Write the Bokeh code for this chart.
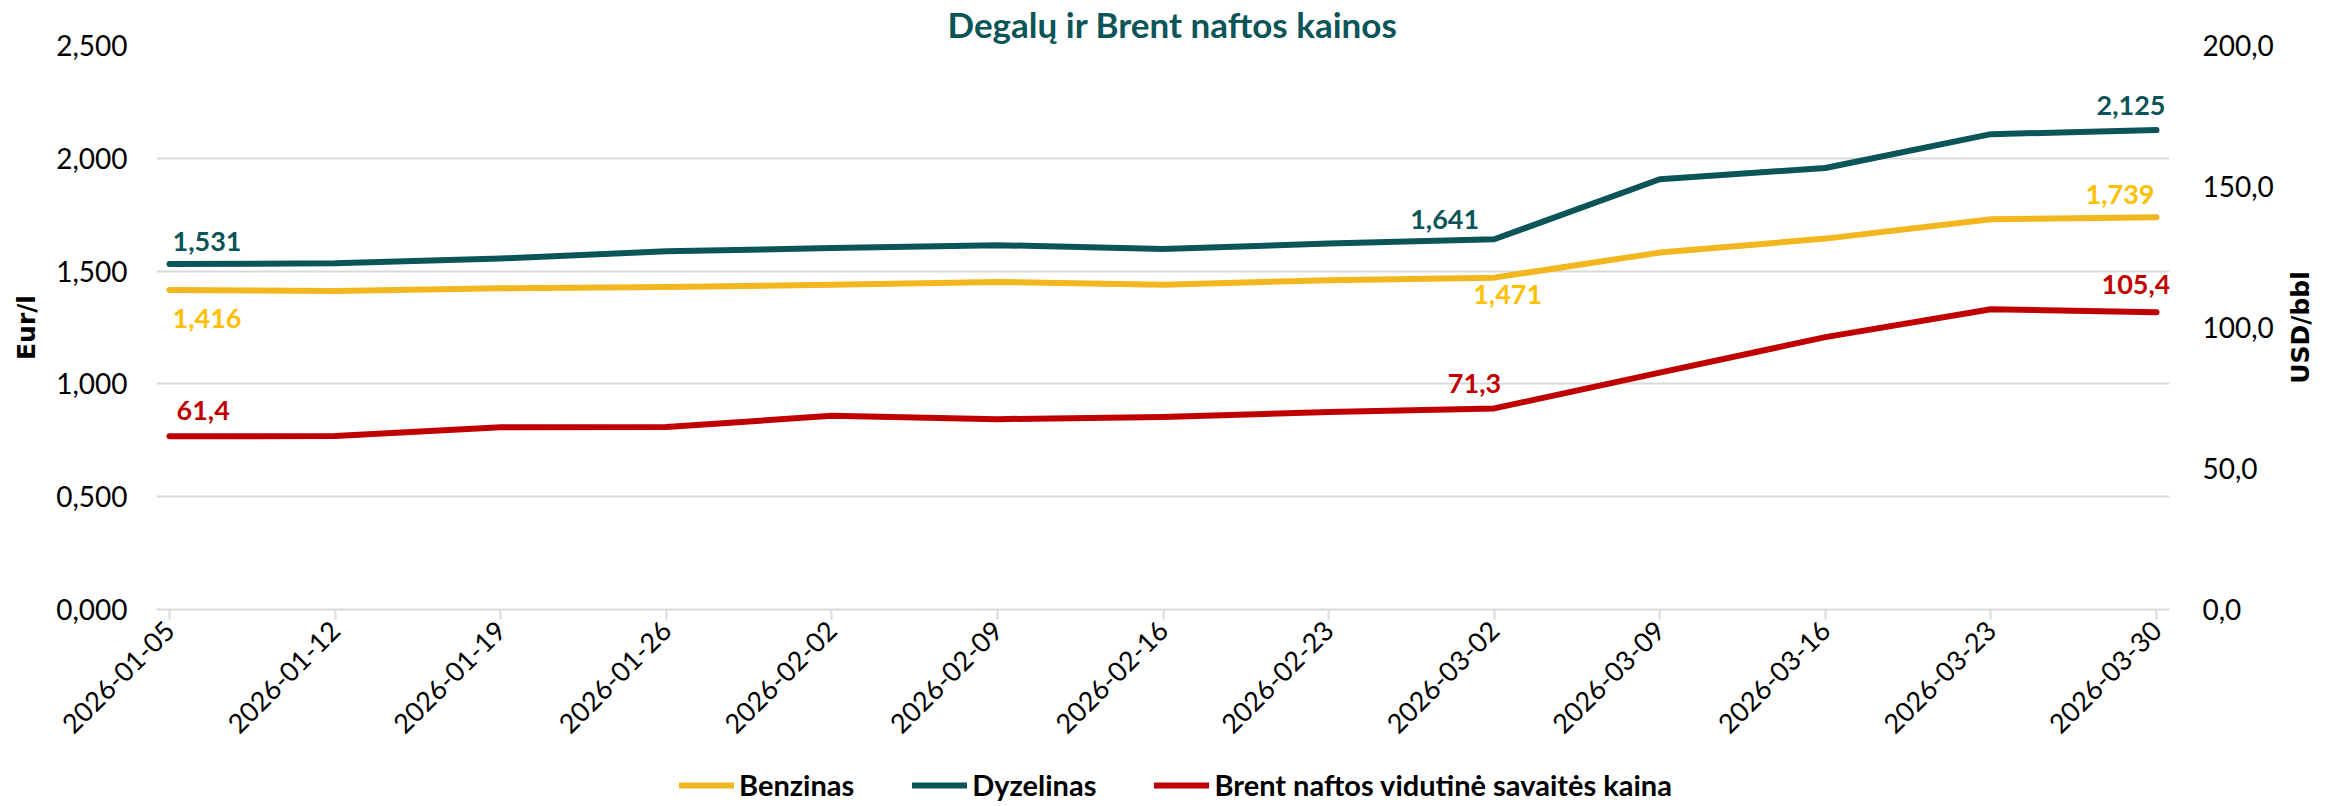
import math
from bokeh.plotting import figure
from bokeh.layouts import column, row
from bokeh.models import (Range1d, LinearAxis, FixedTicker, CustomJSTickFormatter,
                          Legend, LegendItem, Label, ColumnDataSource)
from bokeh.core.properties import value
from bokeh.embed import file_html
from bokeh.resources import INLINE

# ---------------- data ----------------
dates = ["2026-01-05", "2026-01-12", "2026-01-19", "2026-01-26", "2026-02-02",
         "2026-02-09", "2026-02-16", "2026-02-23", "2026-03-02", "2026-03-09",
         "2026-03-16", "2026-03-23", "2026-03-30"]
benzinas = [1.416, 1.412, 1.424, 1.430, 1.439, 1.452, 1.440, 1.459, 1.471,
            1.582, 1.644, 1.730, 1.739]
dyzelinas = [1.531, 1.535, 1.556, 1.588, 1.602, 1.615, 1.598, 1.622, 1.641,
             1.907, 1.957, 2.107, 2.125]
brent = [61.4, 61.5, 64.6, 64.7, 68.7, 67.5, 68.3, 70.0, 71.3, 84.0, 96.6,
         106.5, 105.4]
eur_ticks = [0.0, 0.5, 1.0, 1.5, 2.0, 2.5]
usd_ticks = [0, 50, 100, 150, 200]
series_names = ["Benzinas", "Dyzelinas", "Brent naftos vidutinė savaitės kaina"]
title_text = "Degalų ir Brent naftos kainos"
left_title = "Eur/l"
right_title = "USD/bbl"
labelled_points = [0, 8, 12]

# ---------------- style ----------------
TEAL = "#0B5558"
YELLOW_LINE = "#F2B71E"
YELLOW_TEXT = "#FFC000"
RED = "#C00000"
GRID = "#D9D9D9"
FONT = "Lato"
TOTAL_W, TOTAL_H = 2336, 806
LEG_H = 44
RT_W = 56
W = TOTAL_W - RT_W
H = TOTAL_H - LEG_H
FRAME_L, FRAME_R, FRAME_T, FRAME_B = 156, 2169, 44, 609

xs = list(range(len(dates)))
pad = 0.0785
xr = Range1d(-pad, len(dates) - 1 + pad)
yr = Range1d(eur_ticks[0], eur_ticks[-1])

p = figure(width=W, height=H, output_backend="svg", toolbar_location=None,
           x_range=xr, y_range=yr,
           min_border_left=FRAME_L, min_border_right=W - FRAME_R,
           min_border_top=FRAME_T, min_border_bottom=H - FRAME_B)
p.outline_line_color = None
p.background_fill_color = "white"
p.border_fill_color = "white"
p.extra_y_ranges = {"usd": Range1d(usd_ticks[0], usd_ticks[-1])}

# title
p.title.text = title_text
p.title.align = "left"
p.title.offset = 947 - FRAME_L
p.title.standoff = 1
p.title.text_font = FONT
p.title.text_font_style = "bold"
p.title.text_font_size = "35px"
p.title.text_color = TEAL

# left axis
p.yaxis.ticker = FixedTicker(ticks=eur_ticks)
p.yaxis.formatter = CustomJSTickFormatter(code="return tick.toFixed(3).replace('.', ',');")
p.yaxis.axis_line_color = None
p.yaxis.major_tick_line_color = None
p.yaxis.minor_tick_line_color = None
p.yaxis.major_tick_out = 0
p.yaxis.major_label_standoff = 29
p.yaxis.major_label_text_font = FONT
p.yaxis.major_label_text_font_size = "28px"
p.yaxis.major_label_text_color = "#000000"
p.yaxis.axis_label = left_title
p.yaxis.axis_label_standoff = 12
p.yaxis.axis_label_text_font = "DejaVu Sans"
p.yaxis.axis_label_text_font_style = "bold"
p.yaxis.axis_label_text_font_size = "25px"
p.yaxis.axis_label_text_color = "#000000"

# right axis
ax_r = LinearAxis(y_range_name="usd", ticker=FixedTicker(ticks=usd_ticks),
                  formatter=CustomJSTickFormatter(code="return tick.toFixed(1).replace('.', ',');"))
ax_r.axis_line_color = None
ax_r.major_tick_line_color = None
ax_r.minor_tick_line_color = None
ax_r.major_tick_out = 0
ax_r.major_label_standoff = 33
ax_r.major_label_text_font = FONT
ax_r.major_label_text_font_size = "28px"
ax_r.major_label_text_color = "#000000"
p.add_layout(ax_r, "right")

# x axis
p.xaxis.ticker = FixedTicker(ticks=xs)
p.xaxis.major_label_overrides = {i: d for i, d in zip(xs, dates)}
p.xaxis.major_label_orientation = math.pi / 4
p.xaxis.axis_line_color = GRID
p.xaxis.axis_line_width = 2
p.xaxis.major_tick_line_color = GRID
p.xaxis.major_tick_line_width = 2
p.xaxis.major_tick_out = 10
p.xaxis.major_tick_in = 0
p.xaxis.minor_tick_line_color = None
p.xaxis.major_label_standoff = 6
p.xaxis.major_label_text_font = FONT
p.xaxis.major_label_text_font_size = "27px"
p.xaxis.major_label_text_color = "#000000"

# grid
p.xgrid.grid_line_color = None
p.ygrid.ticker = FixedTicker(ticks=eur_ticks)
p.ygrid.grid_line_color = GRID
p.ygrid.grid_line_width = 2

src = ColumnDataSource(dict(x=xs, benz=benzinas, dyz=dyzelinas, brent=brent))
line_styles = [(YELLOW_LINE, "benz", "default"), (TEAL, "dyz", "default"), (RED, "brent", "usd")]
for color, col, rng in line_styles:
    p.line("x", col, source=src, y_range_name=rng, line_color=color, line_width=6,
           line_cap="round", line_join="round")

def fmt3(v):
    return f"{v:.3f}".replace(".", ",")

def fmt1(v):
    return f"{v:.1f}".replace(".", ",")

# (series, formatter, colour, range name, offsets per labelled point: (align, dx, dy_down))
label_specs = [
    (dyzelinas, fmt3, TEAL, "default", [("left", 3, -23), ("right", -15, -20), ("right", 9, -25)]),
    (benzinas, fmt3, YELLOW_TEXT, "default", [("left", 3, 28), ("left", -21, 17), ("right", -2, -23)]),
    (brent, fmt1, RED, "usd", [("left", 7, -26), ("right", 7, -25), ("right", 14, -28)]),
]
for series, fmt, color, rng, offs in label_specs:
    for i, (align, dx, dy) in zip(labelled_points, offs):
        p.add_layout(Label(x=xs[i], y=series[i], y_range_name=rng, text=fmt(series[i]),
                           x_offset=dx, y_offset=-dy, text_align=align, text_baseline="middle",
                           text_font=FONT, text_font_style="bold", text_font_size="27px",
                           text_color=color))

# ---------------- right axis title strip ----------------
rt = figure(width=RT_W, height=H, output_backend="svg", toolbar_location=None,
            x_range=Range1d(0, 1), y_range=Range1d(0, 1),
            x_axis_location=None, y_axis_location=None,
            min_border_left=0, min_border_right=0,
            min_border_top=FRAME_T, min_border_bottom=H - FRAME_B)
rt.outline_line_color = None
rt.xgrid.grid_line_color = None
rt.ygrid.grid_line_color = None
rt.background_fill_color = "white"
rt.border_fill_color = "white"
rt.text(x=[0.5], y=[0.5], text=[right_title], angle=math.pi / 2, x_offset=-8,
        text_align="center", text_baseline="middle", text_font=value("DejaVu Sans"),
        text_font_style="bold", text_font_size="25px", text_color="#000000")

# ---------------- legend strip ----------------
lg = figure(width=TOTAL_W, height=LEG_H, output_backend="svg", toolbar_location=None,
            x_range=Range1d(0, 1), y_range=Range1d(-2, -1),
            x_axis_location=None, y_axis_location=None,
            min_border_left=FRAME_L, min_border_right=0, min_border_top=0, min_border_bottom=0)
lg.outline_line_color = None
lg.xgrid.grid_line_color = None
lg.ygrid.grid_line_color = None
lg.background_fill_color = "white"
lg.border_fill_color = "white"
items = []
for name, (color, col, _) in zip(series_names, line_styles):
    # same series, outside this strip's visible range: only the legend key shows
    r = lg.line("x", col, source=src, line_color=color, line_width=6, line_cap="round")
    items.append(LegendItem(label=name, renderers=[r]))
legend = Legend(items=items, location=(679 - FRAME_L, 4), orientation="horizontal",
                glyph_width=55, glyph_height=30, label_height=30, label_standoff=5,
                spacing=58, padding=0, margin=0,
                border_line_color=None, background_fill_alpha=0,
                label_text_font=FONT, label_text_font_style="bold",
                label_text_font_size="29px", label_text_color="#000000")
lg.add_layout(legend)

layout = column(row(p, rt, spacing=0), lg, spacing=0)
open("out.html", "w").write(file_html(layout, INLINE))
